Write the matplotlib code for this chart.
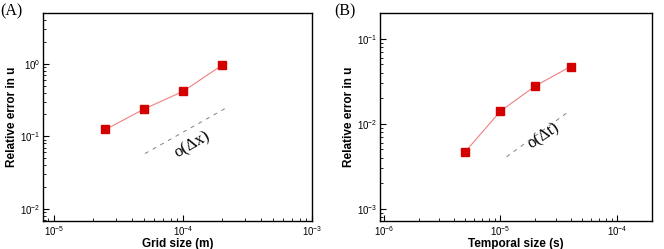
import matplotlib
matplotlib.use('Agg')
import matplotlib.pyplot as plt
import numpy as np

# panel A: spatial convergence
grid_size = [2.5e-5, 5e-5, 1e-4, 2e-4]
err_grid = [0.124, 0.238, 0.416, 0.95]
ref_x = [5.07e-5, 2.15e-4]
ref_x_err = [0.0578, 0.245]

# panel B: temporal convergence
time_size = [5e-6, 1e-5, 2e-5, 4e-5]
err_time = [0.0047, 0.0141, 0.028, 0.0472]
ref_t = [1.13e-5, 3.89e-5]
ref_t_err = [0.0041, 0.0141]

plt.rcParams['font.family'] = ['Liberation Sans', 'DejaVu Sans']
plt.rcParams['mathtext.fontset'] = 'custom'
plt.rcParams['mathtext.rm'] = 'Liberation Sans'

fig = plt.figure(figsize=(6.64, 2.49), dpi=100)
axA = fig.add_axes([0.0648, 0.1124, 0.4052, 0.8356])
axB = fig.add_axes([0.572, 0.1124, 0.410, 0.8356])


def style(ax, xlabel):
    ax.set_xscale('log')
    ax.set_yscale('log')
    ax.tick_params(which='both', direction='in', top=False, right=False, labelsize=7, pad=2)
    ax.tick_params(which='major', length=4, width=0.8)
    ax.tick_params(which='minor', length=2, width=0.6)
    for s in ax.spines.values():
        s.set_linewidth(1.0)
    ax.set_xlabel(xlabel, fontsize=8.5, fontweight='bold', labelpad=0)
    ax.set_ylabel('Relative error in u', fontsize=8.5, fontweight='bold', labelpad=1)


axA.plot(grid_size, err_grid, color='#f08080', lw=0.8, marker='s', ms=5.5,
         mfc='#d40000', mec='#d40000')
axA.plot(ref_x, ref_x_err, color='gray', lw=0.7, ls=(0, (4, 5)))
axA.text(1.17e-4, 0.077, 'o(Δx)', family='Liberation Serif', fontsize=12,
         rotation=30, ha='center', va='center')
axA.set_xlim(8.2e-6, 1e-3)
axA.set_ylim(0.0068, 5.0)
style(axA, 'Grid size (m)')
fig.text(0.0, 0.985, '(A)', family='Liberation Serif', fontsize=11.5, va='top', ha='left')

axB.plot(time_size, err_time, color='#f08080', lw=0.8, marker='s', ms=5.5,
         mfc='#d40000', mec='#d40000')
axB.plot(ref_t, ref_t_err, color='gray', lw=0.7, ls=(0, (4, 5)))
axB.text(2.35e-5, 0.0072, 'o(Δt)', family='Liberation Serif', fontsize=12,
         rotation=34, ha='center', va='center')
axB.set_xlim(9.25e-7, 2e-4)
axB.set_ylim(7.2e-4, 0.202)
style(axB, 'Temporal size (s)')
fig.text(0.503, 0.985, '(B)', family='Liberation Serif', fontsize=11.5, va='top', ha='left')

fig.savefig('out.png', dpi=100)
